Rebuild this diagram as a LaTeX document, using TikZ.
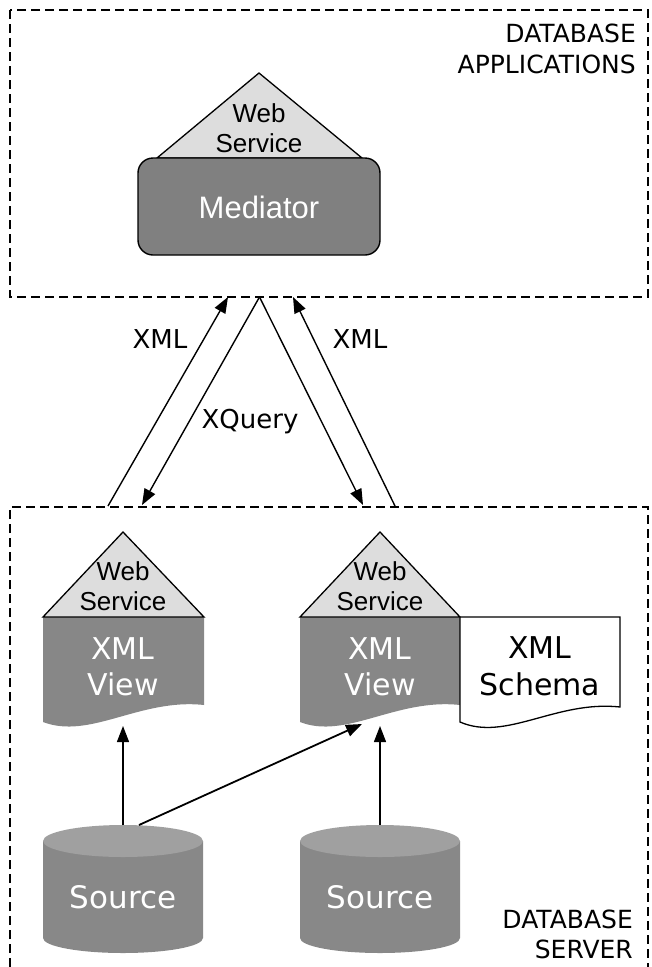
\documentclass[tikz,border=0pt]{standalone}
\usepackage{fontspec}
\setmainfont{DejaVu Sans}
\newfontfamily\arialf{Liberation Sans}
\usetikzlibrary{arrows.meta}
\definecolor{medgray}{HTML}{808080}
\definecolor{viewgray}{HTML}{878787}
\definecolor{wsgray}{HTML}{DDDDDD}
\definecolor{cyltop}{HTML}{A0A0A0}
\definecolor{cylbody}{HTML}{888888}
\begin{document}
\begin{tikzpicture}[x=1pt,y=-1pt,
  region/.style={draw=black, line width=1.4pt, dash pattern=on 9pt off 5pt},
  conn/.style={line width=1.4pt, -{Triangle[length=16pt,width=12pt]}},
  lbl/.style={inner sep=0pt, anchor=base, font=\fontsize{26}{30}\selectfont},
  regionlbl/.style={inner sep=0pt, anchor=base east, font=\fontsize{25}{30}\selectfont},
  wstext/.style={inner sep=0pt, anchor=base, font=\arialf\fontsize{26}{30}\selectfont},
  whitetext/.style={inner sep=0pt, anchor=base, text=white, font=\fontsize{30}{34}\selectfont},
  blacktext/.style={inner sep=0pt, anchor=base, font=\fontsize{30}{34}\selectfont},
  wsshape/.style={draw=black, line width=1.3pt, fill=wsgray, line join=miter},
]
\useasboundingbox (0,0) rectangle (652,967);

% regions
\draw[region] (10,10) rectangle (648,297);
\draw[region] (10,967) -- (10,507) -- (648,507) -- (648,967);
\node[regionlbl] (app1) at (636,42) {DATABASE};
\node[regionlbl] (app2) at (636,73) {APPLICATIONS};
\node[regionlbl] (srv1) at (633,928) {DATABASE};
\node[regionlbl] (srv2) at (633,958) {SERVER};

% mediator
\draw[wsshape] (157,158) -- (259,73) -- (362,158) -- cycle;
\draw[draw=black, line width=1.4pt, fill=medgray, rounded corners=15pt] (138,158) rectangle (380,255);
\node[wstext] (mws1) at (259,122) {Web};
\node[wstext] (mws2) at (259,152) {Service};
\node[inner sep=0pt, anchor=base, text=white, font=\arialf\fontsize{31}{34}\selectfont] (med) at (259,218) {Mediator};

% left XML view
\fill[viewgray] (43,617) -- (204,617) -- (204,705) .. controls (140,698) and (90,740) .. (43,722) -- cycle;
\draw[wsshape] (43,617) -- (123,532) -- (204,617) -- cycle;
\node[wstext] (lws1) at (123,580) {Web};
\node[wstext] (lws2) at (123,610) {Service};
\node[whitetext] (lv1) at (123,659) {XML};
\node[whitetext] (lv2) at (123,695) {View};

% right XML view
\fill[viewgray] (300,617) -- (460,617) -- (460,705) .. controls (396,698) and (346,740) .. (300,722) -- cycle;
\draw[wsshape] (300,617) -- (380,532) -- (460,617) -- cycle;
\node[wstext] (rws1) at (380,580) {Web};
\node[wstext] (rws2) at (380,610) {Service};
\node[whitetext] (rv1) at (380,659) {XML};
\node[whitetext] (rv2) at (380,695) {View};

% XML schema
\draw[draw=black, line width=1.3pt, fill=white] (460,617) -- (620,617) -- (620,707) .. controls (556,700) and (506,742) .. (460,722) -- cycle;
\node[blacktext] (sc1) at (540,658) {XML};
\node[blacktext] (sc2) at (540,695) {Schema};

% sources
\foreach \cx/\nm in {123/ls, 380/rs}{
  \fill[cylbody] (\cx-80,841) -- (\cx-80,938) arc[start angle=180, end angle=360, x radius=80, y radius=-15] -- (\cx+80,841) -- cycle;
  \fill[cyltop] (\cx,841) ellipse[x radius=80, y radius=16];
  \node[whitetext, font=\fontsize{31}{34}\selectfont] (\nm) at (\cx,908) {Source};
}

% connector end points
\coordinate (t1) at (228,297);
\coordinate (b1) at (108,506);
\coordinate (apex) at (259.5,297);
\coordinate (b2) at (142,505);
\coordinate (b3) at (363,505);
\coordinate (b4) at (395,506);
\coordinate (t4) at (293,297);
\coordinate (lvb) at (123,726);
\coordinate (rvb) at (380,726);
\coordinate (rvd) at (362,724);
\coordinate (lst) at (123,825);
\coordinate (lsd) at (139,825);
\coordinate (rst) at (380,825);

\draw[conn] (b1) -- (t1);
\draw[conn] (apex) -- (b2);
\draw[conn] (apex) -- (b3);
\draw[conn] (b4) -- (t4);
\draw[conn] (lst) -- (lvb);
\draw[conn] (rst) -- (rvb);
\draw[conn, line width=1.8pt] (lsd) -- (rvd);

\node[lbl] (x1) at (160,348) {XML};
\node[lbl] (x2) at (360,348) {XML};
\node[lbl] (xq) at (250,428) {XQuery};
\end{tikzpicture}
\end{document}
